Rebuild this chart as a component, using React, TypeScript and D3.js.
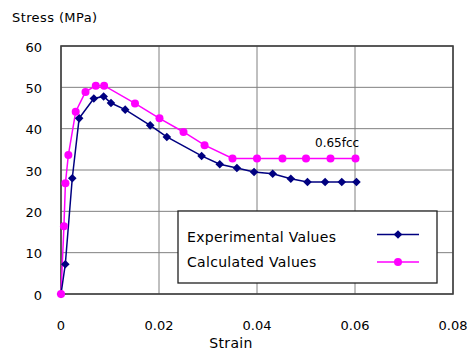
import React from "react";
import * as d3 from "d3";

const expStrain = [0, 0.00088, 0.0023, 0.0037, 0.0067, 0.0087, 0.0102, 0.0131, 0.0182, 0.0216, 0.0287, 0.0324, 0.0359, 0.0394, 0.0432, 0.0469, 0.0503, 0.0539, 0.0573, 0.0603];
const expStress = [0, 7.2, 28.0, 42.5, 47.3, 47.8, 46.2, 44.6, 40.8, 38.0, 33.4, 31.4, 30.5, 29.5, 29.1, 27.9, 27.1, 27.1, 27.1, 27.1];

const calcStrain = [0, 0.0006, 0.0009, 0.0015, 0.003, 0.005, 0.0071, 0.0088, 0.0151, 0.0201, 0.025, 0.0293, 0.035, 0.04, 0.0452, 0.05, 0.055, 0.0601];
const calcStress = [0, 16.4, 26.8, 33.6, 44.1, 48.9, 50.4, 50.4, 46.1, 42.5, 39.2, 36.0, 32.8, 32.8, 32.8, 32.8, 32.8, 32.8];

const xTicks = [0, 0.02, 0.04, 0.06, 0.08];
const yTicks = [0, 10, 20, 30, 40, 50, 60];
const seriesNames = ["Experimental Values", "Calculated Values"];

const FONT = "'DejaVu Sans', Verdana, sans-serif";
const NAVY = "#000080";
const MAGENTA = "#ff00ff";

export default function App() {
  const W = 469, H = 364;
  const x = d3.scaleLinear().domain([0, 0.08]).range([61, 453]);
  const y = d3.scaleLinear().domain([0, 60]).range([294, 46]);

  const expPts = expStrain.map((s, i) => [s, expStress[i]] as [number, number]);
  const calcPts = calcStrain.map((s, i) => [s, calcStress[i]] as [number, number]);
  const line = d3.line<[number, number]>().x(d => x(d[0])).y(d => y(d[1]));

  const diamond = (cx: number, cy: number, r = 4.3) =>
    `M${cx},${cy - r}L${cx + r},${cy}L${cx},${cy + r}L${cx - r},${cy}Z`;

  const lx = 178, ly = 211, lw = 259, lh = 72;

  return (
    <svg width={W} height={H} style={{ position: "absolute", left: 0, top: 0, background: "#fff" }}>
      <rect x={0} y={0} width={W} height={H} fill="#fff" />
      {/* grid */}
      {yTicks.map(t => (
        <line key={"gy" + t} x1={x(0)} x2={x(0.08)} y1={y(t)} y2={y(t)} stroke="#808080" strokeWidth={1} />
      ))}
      {xTicks.map(t => (
        <line key={"gx" + t} x1={x(t)} x2={x(t)} y1={y(0)} y2={y(60)} stroke="#808080" strokeWidth={1} />
      ))}
      {/* plot border */}
      <rect x={x(0)} y={y(60)} width={x(0.08) - x(0)} height={y(0) - y(60)} fill="none" stroke="#404040" strokeWidth={1.6} />
      {/* tick labels */}
      {yTicks.map(t => (
        <text key={"ty" + t} x={42} y={y(t) + 2} textAnchor="end" dominantBaseline="middle" fontFamily={FONT} fontSize={13} fill="#000">{t}</text>
      ))}
      {xTicks.map(t => (
        <text key={"tx" + t} x={x(t)} y={330} textAnchor="middle" fontFamily={FONT} fontSize={13} fill="#000">{t === 0 ? "0" : String(t)}</text>
      ))}
      <text x={12} y={22} fontFamily={FONT} fontSize={13} letterSpacing={0.4} fill="#000">Stress (MPa)</text>
      <text x={231} y={348} textAnchor="middle" fontFamily={FONT} fontSize={14} letterSpacing={0.3} fill="#000">Strain</text>

      {/* series */}
      <path d={line(calcPts) || ""} fill="none" stroke={MAGENTA} strokeWidth={1.5} />
      <path d={line(expPts) || ""} fill="none" stroke={NAVY} strokeWidth={1.5} />
      {expPts.map((p, i) => (
        <path key={"e" + i} d={diamond(x(p[0]), y(p[1]))} fill={NAVY} />
      ))}
      {calcPts.map((p, i) => (
        <circle key={"c" + i} cx={x(p[0])} cy={y(p[1])} r={4} fill={MAGENTA} />
      ))}
      <text x={315} y={147} fontFamily={FONT} fontSize={12} fill="#000">0.65fcc</text>

      {/* legend */}
      <rect x={lx} y={ly} width={lw} height={lh} fill="#fff" stroke="#202020" strokeWidth={1.3} />
      <text x={187} y={241.5} fontFamily={FONT} fontSize={14} letterSpacing={0.3} fill="#000">{seriesNames[0]}</text>
      <text x={187} y={266.5} fontFamily={FONT} fontSize={14} letterSpacing={0.3} fill="#000">{seriesNames[1]}</text>
      <line x1={377} x2={419} y1={234.5} y2={234.5} stroke={NAVY} strokeWidth={1.5} />
      <path d={diamond(398, 234.5)} fill={NAVY} />
      <line x1={377} x2={419} y1={262} y2={262} stroke={MAGENTA} strokeWidth={1.5} />
      <circle cx={398} cy={262} r={4} fill={MAGENTA} />
    </svg>
  );
}
